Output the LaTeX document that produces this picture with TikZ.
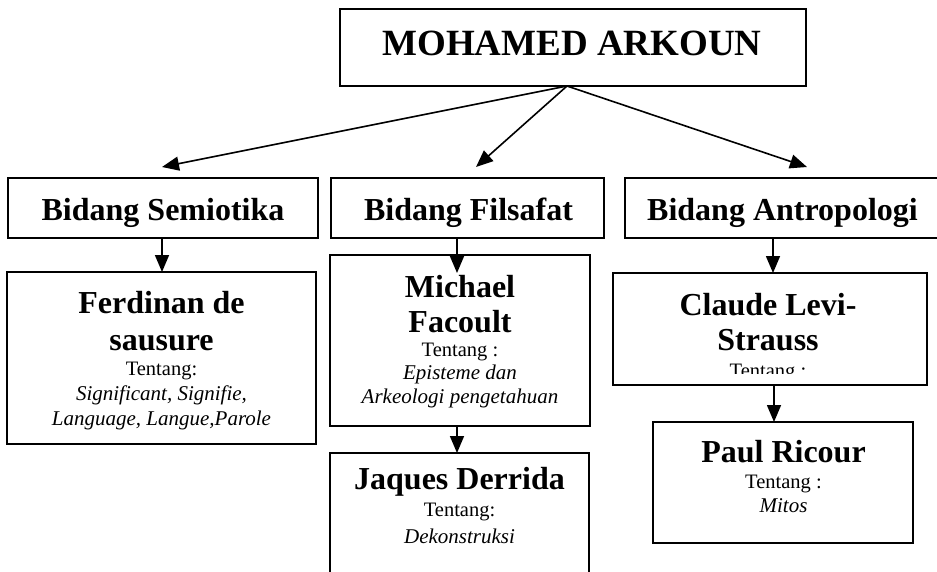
\documentclass[tikz,border=0pt]{standalone}
\usepackage{fontspec}
\setmainfont{Liberation Serif}
\usetikzlibrary{arrows.meta,calc}
\begin{document}
\begin{tikzpicture}[x=1pt,y=-1pt,
  box/.style={draw, line width=1.8pt, inner sep=0pt, outer sep=0pt},
  ttl/.style={font=\fontsize{37}{40}\selectfont\bfseries, anchor=base, inner sep=0pt},
  big/.style={font=\fontsize{32}{36}\selectfont\bfseries, anchor=base, inner sep=0pt},
  sm/.style={font=\fontsize{20.5}{24}\selectfont, anchor=base, inner sep=0pt},
  itx/.style={font=\fontsize{21}{24}\selectfont\itshape, anchor=base, inner sep=0pt},
  arr/.style={-{Triangle[length=17pt,width=14pt]}, line width=1.6pt}]
\clip (0,0) rectangle (937,571);
\fill[white] (0,0) rectangle (937,571);
% boxes
\node[box, minimum width=466pt, minimum height=77pt] (top) at (573,47.5) {};
\node[box, minimum width=310pt, minimum height=60pt] (sem) at (163,208) {};
\node[box, minimum width=273pt, minimum height=60pt] (fil) at (467.5,208) {};
\node[box, minimum width=320pt, minimum height=60pt] (ant) at (785,208) {};
\node[box, minimum width=309pt, minimum height=172pt] (ferd) at (161.5,358) {};
\node[box, minimum width=260pt, minimum height=171pt] (mich) at (460,340.5) {};
\node[box, minimum width=259pt, minimum height=150pt] (jaq) at (459.5,528) {};
\node[box, minimum width=314pt, minimum height=112pt] (clau) at (770,329) {};
\node[box, minimum width=260pt, minimum height=121pt] (paul) at (783,482.5) {};
% texts
\node[ttl] (tt) at (572,55) {MOHAMED ARKOUN};
\node[big] (s1) at (163,220) {Bidang Semiotika};
\node[big] (f1) at (468.5,220) {Bidang Filsafat};
\node[big] (a1) at (782.5,220) {Bidang Antropologi};
\node[big] (fe1) at (161.5,313) {Ferdinan de};
\node[big] (fe2) at (161.5,350) {sausure};
\node[sm]  (fe3) at (161.5,375) {Tentang:};
\node[itx] (fe4) at (161.5,400) {Significant, Signifie,};
\node[itx] (fe5) at (161.5,425) {Language, Langue,Parole};
\node[big] (mi1) at (460,297) {Michael};
\node[big] (mi2) at (460,332) {Facoult};
\node[sm]  (mi3) at (460,356) {Tentang :};
\node[itx] (mi4) at (460,379) {Episteme dan};
\node[itx] (mi5) at (460,403) {Arkeologi pengetahuan};
\node[big] (ja1) at (459.5,489) {Jaques Derrida};
\node[sm]  (ja2) at (459.5,516) {Tentang:};
\node[itx] (ja3) at (459.5,543) {Dekonstruksi};
\node[big] (cl1) at (768,315) {Claude Levi-};
\node[big] (cl2) at (768,350) {Strauss};
\begin{scope}
  \clip (613,300) rectangle (927,373.5);
  \node[sm] (cl3) at (768,377) {Tentang :};
\end{scope}
\node[big] (pa1) at (783.5,462) {Paul Ricour};
\node[sm]  (pa2) at (783.5,488) {Tentang :};
\node[itx] (pa3) at (783.5,512) {Mitos};
% connectors
\coordinate (apex) at (567,86);
\coordinate (t1) at (162,167);
\coordinate (t2) at (476,167);
\coordinate (t3) at (807,167);
\coordinate (t4) at (457,273);
\coordinate (t5) at (773,273);
\coordinate (t6) at (774,386);
\draw[arr] (apex) -- (t1);
\draw[arr] (apex) -- (t2);
\draw[arr] (apex) -- (t3);
\draw[arr] (sem.south -| t1) -- (ferd.north -| t1);
\draw[arr] (fil.south -| t4) -- (t4);
\draw[arr] (mich.south -| t4) -- (jaq.north -| t4);
\draw[arr] (ant.south -| t5) -- (clau.north -| t5);
\draw[arr] (clau.south -| t6) -- (paul.north -| t6);
\end{tikzpicture}
\end{document}
